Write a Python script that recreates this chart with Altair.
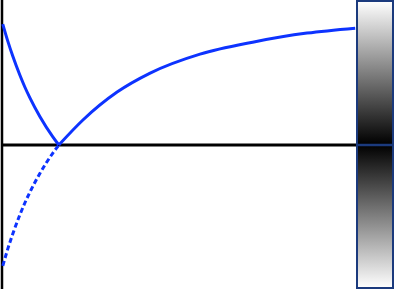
import altair as alt
import pandas as pd

# Curve samples (x: horizontal units, y: vertical units)
right_x = [1.0, 1.43, 2.04, 2.63, 3.52, 4.46, 5.43, 6.29]
right_y = [0.0, 0.207, 0.438, 0.595, 0.752, 0.851, 0.926, 0.967]
left_x = [0.0, 0.089, 0.179, 0.304, 0.393, 0.482, 0.661, 0.893, 1.0]
left_y = [-1.0, -0.86, -0.734, -0.579, -0.48, -0.392, -0.236, -0.067, 0.0]
baseline = [0.0]

BLUE = "#0d33ff"
NAVY = "#1b3a7d"

solid_rows = (
    [{"x": x, "y": y, "series": "pos"} for x, y in zip(right_x, right_y)]
    + [{"x": x, "y": abs(y), "series": "abs"} for x, y in zip(left_x, left_y)]
)
dashed_rows = [{"x": x, "y": y, "series": "neg"} for x, y in zip(left_x, left_y)]

solid_df = pd.DataFrame(solid_rows)
dashed_df = pd.DataFrame(dashed_rows)
base_df = pd.DataFrame({"y": baseline})

xs = alt.Scale(domain=[-0.05, 7.0], nice=False, zero=False)
ys = alt.Scale(domain=[-1.2, 1.2], nice=False, zero=False)

vaxis = alt.Chart(base_df).mark_rule(color="black", strokeWidth=2.5).encode(
    x=alt.value(2), y=alt.value(0), y2=alt.value(289)
)
haxis = alt.Chart(base_df).mark_rule(color="black", strokeWidth=3).encode(
    x=alt.value(2), x2=alt.value(357), y=alt.Y("y:Q", scale=ys, axis=None)
)

solid = alt.Chart(solid_df).mark_line(
    color=BLUE, strokeWidth=3, interpolate="monotone"
).encode(
    x=alt.X("x:Q", scale=xs, axis=None),
    y=alt.Y("y:Q", scale=ys, axis=None),
    detail="series:N",
    order="x:Q",
)

dashed = alt.Chart(dashed_df).mark_line(
    color=BLUE, strokeWidth=3, strokeDash=[5, 3], interpolate="monotone"
).encode(
    x=alt.X("x:Q", scale=xs, axis=None),
    y=alt.Y("y:Q", scale=ys, axis=None),
    order="x:Q",
)

grad = alt.LinearGradient(
    gradient="linear",
    x1=0, x2=0, y1=0, y2=1,
    stops=[
        alt.GradientStop(offset=0, color="#ffffff"),
        alt.GradientStop(offset=0.5, color="#000000"),
        alt.GradientStop(offset=1, color="#ffffff"),
    ],
)
bar = alt.Chart(base_df).mark_rect(color=grad, stroke=NAVY, strokeWidth=2).encode(
    x=alt.value(357), x2=alt.value(393), y=alt.value(1), y2=alt.value(288)
)
midline = alt.Chart(base_df).mark_rule(color=NAVY, strokeWidth=2.5).encode(
    x=alt.value(357), x2=alt.value(393), y=alt.Y("y:Q", scale=ys, axis=None)
)

chart = alt.layer(vaxis, haxis, solid, dashed, bar, midline).properties(
    width=395, height=290, padding=0, autosize=alt.AutoSizeParams(type="none")
).configure_view(stroke=None)

chart.save("out.html", embed_options={"renderer": "svg", "actions": False})
